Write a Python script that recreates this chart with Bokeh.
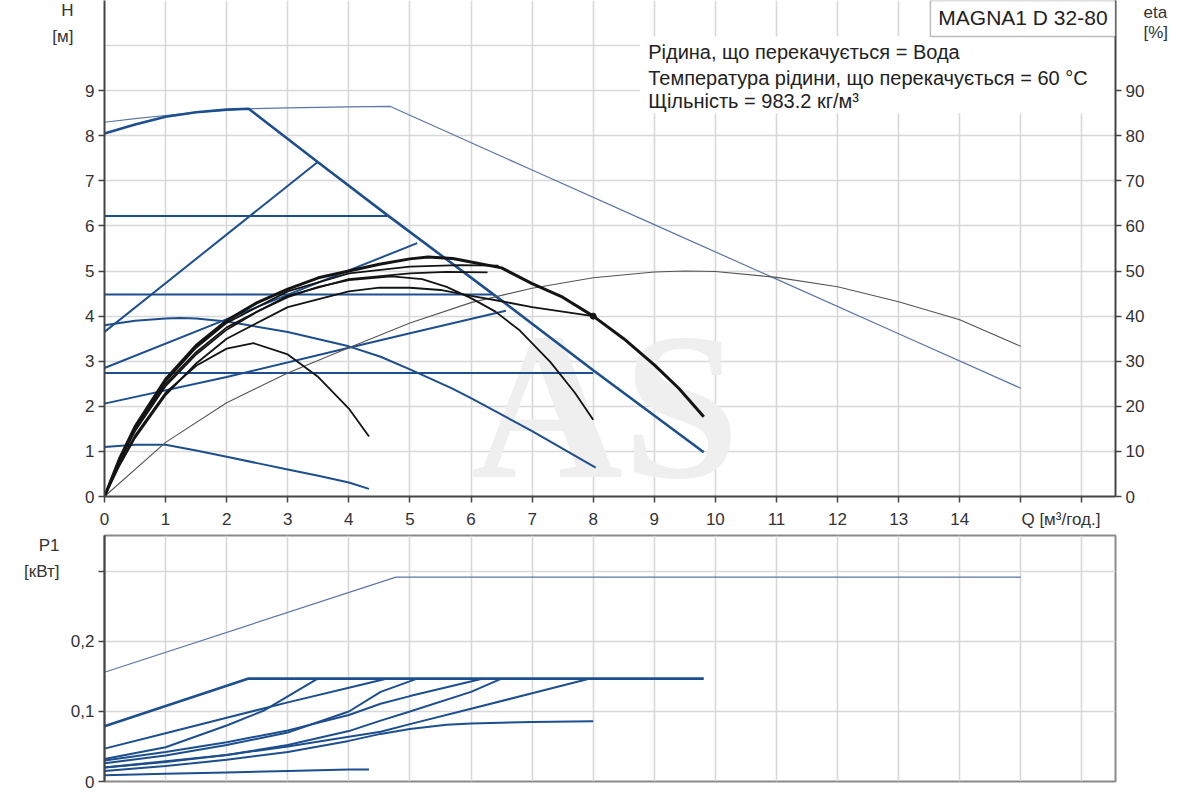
from bokeh.plotting import figure
from bokeh.models import Range1d, LinearAxis, FixedTicker, Label, BoxAnnotation
from bokeh.layouts import column
from bokeh.embed import file_html
from bokeh.resources import INLINE

# ---------------- data: head curves H [m] vs Q [m3/h] ----------------
max_thin_q = [0, 0.5, 1, 1.5, 2, 2.36, 3, 4, 4.68, 7, 9, 11, 13, 15]
max_thin_h = [8.3, 8.38, 8.45, 8.52, 8.57, 8.6, 8.62, 8.64, 8.65, 7.24, 6.03, 4.82, 3.61, 2.4]

max_q = [0, 0.5, 1, 1.5, 2, 2.36, 3.49, 4.63, 6.35, 8.0, 9.81]
max_h = [8.05, 8.25, 8.42, 8.52, 8.58, 8.6, 7.42, 6.24, 4.5, 2.8, 0.98]

pp1_q = [0, 3.49]
pp1_h = [3.65, 7.42]
pp2_q = [0, 5.12]
pp2_h = [2.85, 5.62]
pp3_q = [0, 2, 4, 5, 6.57]
pp3_h = [2.06, 2.65, 3.3, 3.62, 4.12]

cp1_q = [0, 4.63]
cp1_h = [6.22, 6.22]
cp2_q = [0, 6.35]
cp2_h = [4.48, 4.48]
cp3_q = [0, 8.0]
cp3_h = [2.74, 2.74]

const1_q = [0, 0.5, 1, 1.5, 2, 2.5, 3, 3.5, 4, 4.33]
const1_h = [1.1, 1.15, 1.15, 1.02, 0.88, 0.74, 0.6, 0.46, 0.31, 0.17]
const2_q = [0, 0.5, 1, 1.24, 1.5, 2, 3, 4, 4.52, 5, 5.67, 6, 7, 8.04]
const2_h = [3.8, 3.9, 3.95, 3.96, 3.95, 3.88, 3.65, 3.33, 3.1, 2.82, 2.41, 2.18, 1.45, 0.64]

# ---------------- data: efficiency curves eta [%] ----------------
eta_max_q = [0, 0.25, 0.5, 1, 1.5, 2, 2.5, 3, 3.5, 4, 4.5, 5, 5.3, 5.7, 6, 6.5, 7, 7.5, 8, 8.5, 9, 9.4, 9.81]
eta_max_v = [0, 8.5, 15.5, 26, 33.5, 39, 43, 46, 48.5, 50, 51.5, 52.7, 53.1, 52.8, 52, 50.7, 47.2, 44.2, 40, 35, 29.2, 24, 17.7]
eta2_q = [0, 0.25, 0.5, 1, 1.5, 2, 2.5, 3, 3.5, 4, 4.7, 5.2, 5.6, 6, 6.4, 6.8, 7.3, 7.7, 8.0]
eta2_v = [0, 8, 14.5, 24.5, 31.5, 37, 41, 44.2, 46.5, 48, 48.8, 48.2, 46.5, 44, 41, 36.8, 29.8, 23, 17]
eta3_q = [0, 0.25, 0.5, 1, 1.5, 2, 2.44, 3, 3.5, 4, 4.33]
eta3_v = [0, 7.5, 13.5, 23, 29, 32.8, 34, 31.5, 26.5, 19.5, 13.3]
eta4_q = [0, 0.25, 0.5, 1, 1.5, 2, 3, 4, 4.5, 5, 5.5, 6, 6.5, 7, 7.5, 8]
eta4_v = [0, 7, 13, 22.5, 29.5, 35, 42, 45.5, 46.3, 46.3, 45.8, 44.5, 43.3, 42, 41, 40]
eta5_q = [0, 0.25, 0.5, 1, 1.5, 2, 3, 4, 5, 5.6, 6.27]
eta5_v = [0, 8, 15, 25, 32, 37.5, 44.5, 48.2, 49.5, 49.8, 49.7]
eta6_q = [0, 0.25, 0.5, 1, 1.5, 2, 3, 4, 5, 5.8, 6.45]
eta6_v = [0, 8.5, 15.5, 25.5, 33, 38.5, 45.5, 49.5, 51, 51.3, 51.2]
eta_thin_q = [0, 1, 2, 3, 4, 5, 6, 7, 8, 9, 9.5, 10, 11, 12, 13, 14, 15]
eta_thin_v = [0, 12, 20.8, 27.4, 33, 38.5, 43, 46.2, 48.5, 49.8, 50, 49.9, 48.6, 46.5, 43.2, 39.2, 33.3]
dot_q = [8.0]
dot_v = [40.0]

# ---------------- data: power curves P1 [kW] ----------------
p_max_thin_q = [0, 4.77, 15]
p_max_thin_v = [0.156, 0.292, 0.292]
p_max_q = [0, 2.36, 9.81]
p_max_v = [0.079, 0.147, 0.147]
p_cp1_q = [0, 1, 2, 3, 4, 4.63]
p_cp1_v = [0.047, 0.069, 0.091, 0.113, 0.134, 0.147]
p_pp1_q = [0, 1, 2, 2.6, 3.49]
p_pp1_v = [0.032, 0.049, 0.08, 0.101, 0.147]
p_pp2_q = [0, 1, 2, 3, 4, 4.52, 5.12]
p_pp2_v = [0.026, 0.037, 0.052, 0.07, 0.1, 0.128, 0.147]
p_cp2_q = [0, 1, 2, 3, 4, 4.52, 5, 6.2]
p_cp2_v = [0.03, 0.042, 0.056, 0.073, 0.095, 0.111, 0.122, 0.147]
p_pp3_q = [0, 1, 2, 3, 4, 4.52, 5, 6, 6.5]
p_pp3_v = [0.02, 0.028, 0.038, 0.052, 0.072, 0.087, 0.1, 0.128, 0.147]
p_cp3_q = [0, 1, 2, 3, 4, 4.52, 5, 6, 7, 7.95]
p_cp3_v = [0.02, 0.029, 0.038, 0.05, 0.064, 0.071, 0.082, 0.104, 0.126, 0.147]
p_const2_q = [0, 1, 2, 3, 4, 4.52, 5, 5.6, 6, 7, 8.0]
p_const2_v = [0.015, 0.022, 0.031, 0.042, 0.058, 0.068, 0.075, 0.081, 0.083, 0.085, 0.086]
p_const1_q = [0, 1, 2, 3, 4, 4.33]
p_const1_v = [0.009, 0.011, 0.013, 0.015, 0.017, 0.017]

# ---------------- ticks and texts ----------------
x_ticks = list(range(17))
x_labels = {15: "\u00a0" * 17 + "Q [м³/год.]", 16: ""}
h_ticks = list(range(10))
eta_ticks = list(range(0, 100, 10))
p_ticks = [0, 0.1, 0.2, 0.3]
p_labels = {0: "0", 0.1: "0,1", 0.2: "0,2", 0.3: ""}
h_name = {10.8: "H", 10.2: "[м]"}
eta_name = {107.3: "eta", 102.8: "[%]"}
p_name = {0.337: "P1", 0.300: "[кВт]"}
model_name = "MAGNA1 D 32-80"
notes = ["Рідина, що перекачується = Вода",
         "Температура рідини, що перекачується = 60 °C",
         "Щільність = 983.2 кг/м³"]

FONT = "Liberation Sans"
BLUE = "#1d4f8f"
THIN = "#5a76a8"
BLACK = "#141414"
GRID = "#d8d8d8"
AX = "#444444"
TXT = "#333333"


def style_axis(ax):
    ax.axis_line_color = AX
    ax.axis_line_width = 2
    ax.major_tick_line_color = AX
    ax.major_tick_line_width = 1.5
    ax.major_tick_out = 6
    ax.major_tick_in = 0
    ax.minor_tick_line_color = None
    ax.major_label_text_font = FONT
    ax.major_label_text_font_size = "17px"
    ax.major_label_text_color = TXT
    ax.major_label_standoff = 4


def name_axis(names, standoff, **kw):
    ax = LinearAxis(ticker=FixedTicker(ticks=list(names.keys())), major_label_overrides=names, **kw)
    ax.axis_line_color = None
    ax.major_tick_line_color = None
    ax.minor_tick_line_color = None
    ax.major_label_text_font = FONT
    ax.major_label_text_font_size = "17px"
    ax.major_label_text_color = TXT
    ax.major_label_standoff = standoff
    return ax


# ---------------- top figure ----------------
top = figure(width=1190, height=531, x_range=Range1d(0, 16.55), y_range=Range1d(0, 11.0),
             output_backend="svg", toolbar_location=None,
             min_border_left=104, min_border_right=75, min_border_top=0, min_border_bottom=34)
top.outline_line_color = None
top.extra_y_ranges = {"eta": Range1d(0, 110.0)}
top.xaxis.ticker = FixedTicker(ticks=x_ticks)
top.xaxis.major_label_overrides = x_labels
top.yaxis.ticker = FixedTicker(ticks=h_ticks)
style_axis(top.xaxis[0])
style_axis(top.yaxis[0])
top.xaxis.major_label_standoff = 7
right_ax = LinearAxis(y_range_name="eta", ticker=FixedTicker(ticks=eta_ticks))
style_axis(right_ax)
top.add_layout(right_ax, "right")
top.add_layout(name_axis(h_name, 3), "left")
top.add_layout(name_axis(eta_name, -10, y_range_name="eta"), "right")
top.xgrid.ticker = FixedTicker(ticks=x_ticks)
top.ygrid.ticker = FixedTicker(ticks=list(range(11)))
top.grid.grid_line_color = GRID
top.grid.grid_line_width = 1.6

top.add_layout(Label(x=8.2, y=2.0, text="AS", text_font="Liberation Serif", text_font_style="bold",
                     text_font_size="210px", text_color="#efefef", text_align="center",
                     text_baseline="middle", level="underlay"))

# white panel behind the notes
top.add_layout(BoxAnnotation(left=8.77, right=16.55, bottom=8.5, top=10.2,
                             fill_color="white", fill_alpha=1, line_color=None, level="underlay"))

# blue head curves
top.line(max_thin_q, max_thin_h, line_color=THIN, line_width=1.2)
for q, h in [(pp1_q, pp1_h), (pp2_q, pp2_h), (pp3_q, pp3_h), (cp1_q, cp1_h), (cp2_q, cp2_h),
             (cp3_q, cp3_h), (const1_q, const1_h), (const2_q, const2_h)]:
    top.line(q, h, line_color=BLUE, line_width=2)
top.line(max_q, max_h, line_color=BLUE, line_width=2.6)

# black efficiency curves
top.line(eta_thin_q, eta_thin_v, y_range_name="eta", line_color="#555555", line_width=1.1)
for q, v in [(eta2_q, eta2_v), (eta3_q, eta3_v), (eta4_q, eta4_v), (eta5_q, eta5_v), (eta6_q, eta6_v)]:
    top.line(q, v, y_range_name="eta", line_color=BLACK, line_width=1.8)
top.line(eta_max_q, eta_max_v, y_range_name="eta", line_color=BLACK, line_width=3)
top.scatter(dot_q, dot_v, y_range_name="eta", size=6, color=BLACK)

# model box
top.add_layout(BoxAnnotation(left=13.52, right=16.55, bottom=10.2, top=11.0,
                             fill_color="white", fill_alpha=1, line_color="#222222", line_width=1.5))
top.add_layout(Label(x=16.42, y=10.62, text=model_name, text_font=FONT, text_font_size="21px",
                     text_color="#222222", text_align="right", text_baseline="middle"))

for txt, yy in zip(notes, [9.85, 9.29, 8.78]):
    top.add_layout(Label(x=8.9, y=yy, text=txt, text_font=FONT, text_font_size="20px",
                         text_color="#222222", text_align="left", text_baseline="middle"))

# ---------------- bottom figure ----------------
bot = figure(width=1190, height=262, x_range=Range1d(0, 16.55), y_range=Range1d(0, 0.3514),
             output_backend="svg", toolbar_location=None,
             min_border_left=104, min_border_right=75, min_border_top=4, min_border_bottom=12)
bot.outline_line_color = "#8a8a8a"
bot.outline_line_width = 2
bot.xaxis.visible = False
bot.yaxis.ticker = FixedTicker(ticks=p_ticks)
bot.yaxis.major_label_overrides = p_labels
style_axis(bot.yaxis[0])
bot.add_layout(name_axis(p_name, 2), "left")
bot.xgrid.ticker = FixedTicker(ticks=x_ticks)
bot.ygrid.ticker = FixedTicker(ticks=p_ticks)
bot.grid.grid_line_color = GRID
bot.grid.grid_line_width = 1.6

bot.line(p_max_thin_q, p_max_thin_v, line_color=THIN, line_width=1.2)
for q, v in [(p_cp1_q, p_cp1_v), (p_pp1_q, p_pp1_v), (p_pp2_q, p_pp2_v), (p_cp2_q, p_cp2_v),
             (p_pp3_q, p_pp3_v), (p_cp3_q, p_cp3_v), (p_const2_q, p_const2_v), (p_const1_q, p_const1_v)]:
    bot.line(q, v, line_color=BLUE, line_width=2)
bot.line(p_max_q, p_max_v, line_color=BLUE, line_width=2.6)

layout = column(top, bot, spacing=0)
open("out.html", "w").write(file_html(layout, INLINE))
